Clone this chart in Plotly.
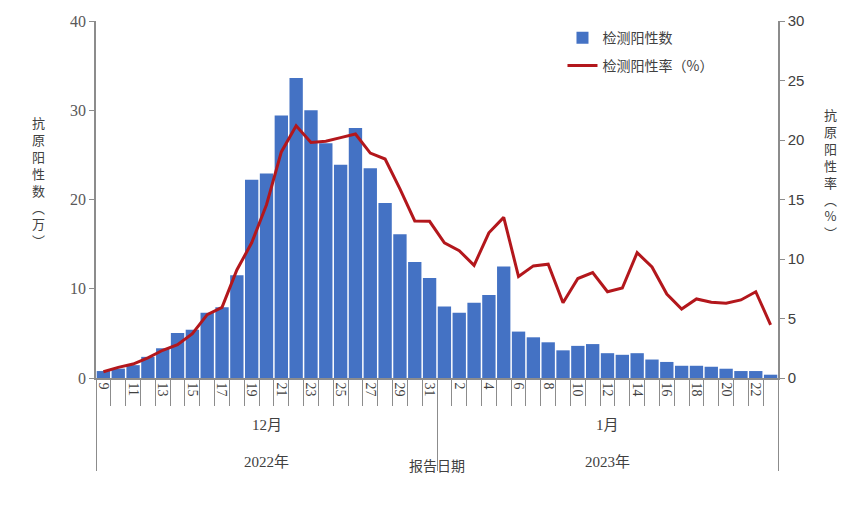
import plotly.graph_objects as go

dec_days = list(range(9, 32))
jan_days = list(range(1, 24))
days = dec_days + jan_days

positives = [0.78, 1.05, 1.44, 2.37, 3.33, 5.04, 5.41, 7.3, 7.93, 11.5, 22.2, 22.9,
             29.4, 33.6, 30.0, 26.3, 23.9, 28.0, 23.5, 19.6, 16.1, 13.0, 11.2,
             8.0, 7.3, 8.44, 9.3, 12.5, 5.2, 4.56, 4.0, 3.1, 3.6, 3.8, 2.78, 2.6,
             2.78, 2.07, 1.8, 1.37, 1.37, 1.26, 1.04, 0.78, 0.78, 0.37]
rate = [0.53, 0.89, 1.17, 1.7, 2.33, 2.8, 3.72, 5.33, 5.94, 9.08, 11.36, 14.56,
        19.0, 21.2, 19.8, 19.9, 20.2, 20.5, 18.9, 18.4, 15.9, 13.2, 13.17,
        11.36, 10.7, 9.47, 12.2, 13.5, 8.53, 9.42, 9.56, 6.33, 8.36, 8.86, 7.25,
        7.56, 10.53, 9.33, 7.06, 5.8, 6.64, 6.36, 6.28, 6.56, 7.25, 4.47]

months = ["12月", "1月"]
years = ["2022年", "2023年"]
bar_name = "检测阳性数"
line_name = "检测阳性率（%）"
left_title = "抗原阳性数︵万︶"
right_title = "抗原阳性率︵%︶"
x_title = "报告日期"

n = len(days)
x = list(range(n))
label_idx = x[::2]
label_txt = [str(days[i]) for i in label_idx]
boundaries = [i - 0.5 for i in range(n + 1)]
n_dec = len(dec_days)
group_bounds = [-0.5, n_dec - 0.5, n - 0.5]
group_centers = [(n_dec - 1) / 2, n_dec + (len(jan_days) - 1) / 2]

AX = "#8c8c8c"
serif = "Liberation Serif, Times New Roman, Noto Sans CJK SC, serif"
sans = "Noto Sans CJK SC, Liberation Sans, sans-serif"

fig = go.Figure()
fig.add_trace(go.Bar(x=x, y=positives, name=bar_name, marker_color="#4472C4",
                     marker_line_width=0, legend="legend", yaxis="y"))
fig.add_trace(go.Scatter(x=x, y=rate, name=line_name, mode="lines",
                         line=dict(color="#B3171C", width=3), yaxis="y2",
                         legend="legend2"))
fig.add_trace(go.Scatter(x=[], y=[], xaxis="x2", showlegend=False, hoverinfo="skip"))
fig.add_trace(go.Scatter(x=[], y=[], xaxis="x3", showlegend=False, hoverinfo="skip"))

rng = [-0.5, n - 0.5]
fig.update_layout(
    width=852, height=508,
    margin=dict(l=96, r=74, t=18, b=130),
    plot_bgcolor="white", paper_bgcolor="white",
    bargap=0.1,
    xaxis=dict(range=rng, tickvals=label_idx, ticktext=label_txt, tickangle=90,
               ticks="", showline=True, linecolor=AX, linewidth=1.5,
               tickfont=dict(family=serif, size=14, color="#404040"),
               showgrid=False, zeroline=False),
    xaxis2=dict(range=rng, overlaying="x", anchor="y", side="bottom",
                tickvals=boundaries, ticks="outside", ticklen=27, tickcolor=AX,
                tickwidth=1, showticklabels=False, showgrid=False, zeroline=False),
    xaxis3=dict(range=rng, overlaying="x", anchor="y", side="bottom",
                tickvals=group_bounds, ticks="outside", ticklen=92, tickcolor=AX,
                tickwidth=1.2, showticklabels=False, showgrid=False, zeroline=False),
    yaxis=dict(range=[0, 40], dtick=10, ticks="outside", ticklen=5, tickcolor=AX,
               showline=True, linecolor=AX, linewidth=1.5, showgrid=False,
               zeroline=False,
               tickfont=dict(family=serif, size=16, color="#595959")),
    yaxis2=dict(range=[0, 30], dtick=5, overlaying="y", side="right",
                ticks="outside", ticklen=5, tickcolor=AX, showline=True,
                linecolor=AX, linewidth=1.5, showgrid=False, zeroline=False,
                tickfont=dict(family="Liberation Sans, Noto Sans, sans-serif",
                              size=15, color="#404040")),
    legend=dict(x=0.684, y=0.997, xanchor="left", yanchor="top",
                font=dict(family=sans, size=14, color="#404040"),
                bgcolor="rgba(0,0,0,0)"),
    legend2=dict(x=0.684, y=0.919, xanchor="left", yanchor="top",
                 font=dict(family=sans, size=14, color="#404040"),
                 bgcolor="rgba(0,0,0,0)"),
    showlegend=True,
)

annotations = []
for c, m in zip(group_centers, months):
    annotations.append(dict(x=c, y=0, xref="x", yref="paper", yshift=-47,
                            text=m, showarrow=False, xanchor="center",
                            yanchor="middle",
                            font=dict(family=serif, size=15, color="#404040")))
for c, yr in zip(group_centers, years):
    annotations.append(dict(x=c, y=0, xref="x", yref="paper", yshift=-84,
                            text=yr, showarrow=False, xanchor="center",
                            yanchor="middle",
                            font=dict(family=serif, size=15, color="#404040")))
annotations.append(dict(x=group_bounds[1], y=0, xref="x", yref="paper", yshift=-87,
                        text=x_title, showarrow=False, xanchor="center",
                        yanchor="middle",
                        font=dict(family=sans, size=14, color="#404040")))

# vertical (stacked) axis titles, placed in pixel positions converted to paper coords
pw, ph = 852 - 96 - 74, 508 - 18 - 130
for px, py, txt in [(38, 180, left_title), (830, 172, right_title)]:
    annotations.append(dict(x=(px - 96) / pw, y=1 - (py - 18) / ph,
                            xref="paper", yref="paper", xanchor="center",
                            yanchor="middle", text="<br>".join(txt),
                            showarrow=False,
                            font=dict(family=sans, size=13, color="#404040")))
fig.update_layout(annotations=annotations)

fig.write_html("out.html")
